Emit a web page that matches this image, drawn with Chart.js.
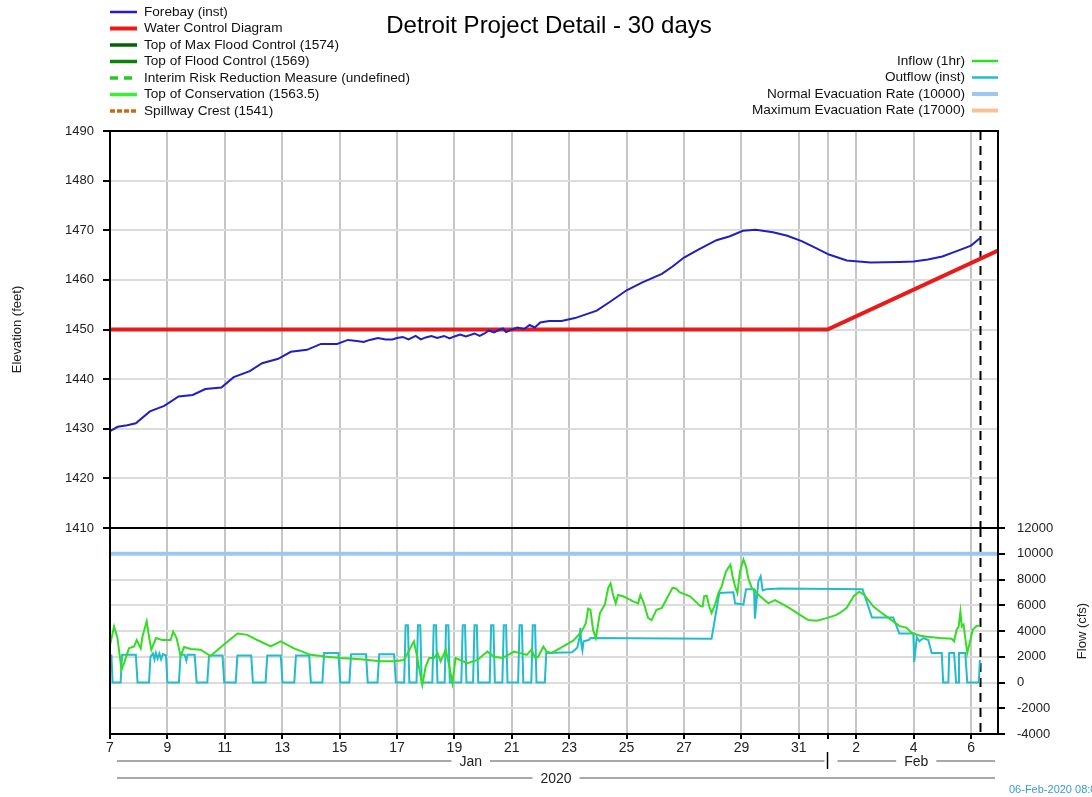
<!DOCTYPE html>
<html><head><meta charset="utf-8">
<script src="https://cdn.jsdelivr.net/npm/chart.js@4.4.0/dist/chart.umd.min.js"></script>
<style>
html,body{margin:0;padding:0;background:#fff;}
#wrap{position:relative;width:1092px;height:797px;overflow:hidden;background:#fff;}
canvas{position:absolute;left:0;top:0;}
</style></head><body>
<div id="wrap"><canvas id="topChart" width="1092" height="797"></canvas><canvas id="botChart" width="1092" height="797"></canvas></div>
<script>
// ---------- data ----------
const chartTitle = 'Detroit Project Detail - 30 days';
const X_MAX = 30.94;            // days after 07-Jan-2020 00:00
const nowDay = 30.33;           // 06-Feb-2020 08:00
const tickDays   = [0,2,4,6,8,10,12,14,16,18,20,22,24,25,26,28,30];
const tickLabels = ['7','9','11','13','15','17','19','21','23','25','27','29','31','','2','4','6'];
const monthSpans = [['Jan',0,25],['Feb',25,X_MAX]];
const yearSpans  = [['2020',0,X_MAX]];
const elevTicks = [1410,1420,1430,1440,1450,1460,1470,1480,1490];
const flowTicks = [-4000,-2000,0,2000,4000,6000,8000,10000,12000];
const timeStamp = '06-Feb-2020 08:00';

const forebay = [[0,1429.5],[0.27,1430.4],[0.6,1430.7],[0.9,1431.1],[1.39,1433.5],[1.89,1434.6],[2.39,1436.5],[2.88,1436.8],[3.32,1438.0],[3.88,1438.3],[4.31,1440.4],[4.87,1441.6],[5.3,1443.2],[5.86,1444.1],[6.3,1445.5],[6.86,1445.9],[7.35,1447.1],[7.91,1447.1],[8.29,1447.9],[8.6,1447.7],[8.84,1447.5],[9.05,1447.9],[9.34,1448.3],[9.6,1448.0],[9.84,1448.0],[10.0,1448.3],[10.2,1448.5],[10.4,1448.0],[10.65,1448.7],[10.83,1448.0],[11.0,1448.4],[11.2,1448.7],[11.4,1448.3],[11.64,1448.7],[11.83,1448.2],[12.0,1448.6],[12.2,1449.0],[12.4,1448.6],[12.7,1449.2],[12.88,1448.7],[13.05,1449.2],[13.2,1449.8],[13.38,1449.4],[13.55,1449.9],[13.69,1450.2],[13.8,1449.5],[14.0,1450.0],[14.19,1450.4],[14.43,1450.1],[14.62,1450.9],[14.8,1450.4],[14.99,1451.4],[15.3,1451.7],[15.73,1451.7],[16.2,1452.3],[16.96,1453.8],[17.45,1455.7],[18.0,1457.9],[18.55,1459.5],[19.23,1461.2],[19.6,1462.7],[20.0,1464.5],[20.5,1466.1],[21.13,1468.0],[21.6,1468.8],[22.05,1469.9],[22.5,1470.1],[23.1,1469.6],[23.6,1468.9],[24.1,1467.8],[24.6,1466.4],[25.05,1465.1],[25.67,1463.9],[26.5,1463.5],[27.5,1463.6],[28.0,1463.7],[28.5,1464.1],[29.0,1464.7],[29.5,1465.8],[30.0,1466.9],[30.33,1468.5]];
const waterControl = [[0,1450],[25,1450],[X_MAX,1465.9]];
const maxFloodControl = [[0,1574],[X_MAX,1574]];
const floodControl = [[0,1569],[X_MAX,1569]];
const interimRisk = [];
const conservation = [[0,1563.5],[X_MAX,1563.5]];
const spillwayCrest = [[0,1541],[X_MAX,1541]];

const inflow = [[0,2900],[0.14,4350],[0.26,3450],[0.4,1000],[0.49,1500],[0.66,2650],[0.84,2800],[0.93,3300],[1.07,2650],[1.13,3550],[1.28,4750],[1.36,3550],[1.44,2550],[1.6,3450],[1.82,3300],[2.11,3300],[2.2,3950],[2.32,3450],[2.46,2050],[2.58,2750],[2.81,2600],[3.16,2550],[3.5,2050],[3.97,2950],[4.44,3800],[4.79,3700],[5.13,3300],[5.6,2800],[5.95,3200],[6.41,2650],[6.99,2150],[7.57,2000],[8.04,1900],[8.73,1800],[9.43,1650],[9.9,1650],[10.24,1750],[10.59,3200],[10.7,2000],[10.88,-200],[11.0,1250],[11.12,1900],[11.29,1900],[11.41,2300],[11.52,1650],[11.7,2550],[11.8,1500],[11.93,-50],[12.04,1900],[12.45,1500],[12.8,1750],[13.15,2400],[13.38,2000],[13.67,1900],[14.08,2400],[14.29,2280],[14.52,2150],[14.69,2550],[14.8,1950],[14.92,2000],[15.1,2800],[15.21,2400],[15.39,2300],[15.79,2800],[16.14,3250],[16.43,3950],[16.58,4600],[16.66,5750],[16.74,5650],[16.83,4100],[16.93,3450],[17.07,5400],[17.24,6050],[17.36,7350],[17.44,7700],[17.53,6800],[17.62,6150],[17.7,6800],[17.88,6700],[18.23,6300],[18.4,6150],[18.48,6800],[18.6,6150],[18.75,5000],[18.87,4850],[19.04,5650],[19.23,5800],[19.6,7350],[19.72,7300],[19.86,7000],[20.21,6700],[20.56,5950],[20.65,5900],[20.7,6700],[20.79,6750],[20.88,5900],[20.96,5400],[21.08,6050],[21.2,6950],[21.31,7450],[21.46,8600],[21.54,8900],[21.62,9150],[21.69,8250],[21.78,7450],[21.86,6950],[21.95,8600],[22.07,9550],[22.16,9000],[22.24,8100],[22.36,7350],[22.65,6700],[22.94,6150],[23.17,6400],[23.46,6050],[23.69,5750],[24.04,5250],[24.33,4850],[24.62,4800],[24.97,5000],[25.31,5250],[25.43,5400],[25.67,5800],[25.91,6700],[26.1,7050],[26.28,6800],[26.6,5900],[26.83,5500],[27.29,4750],[27.5,4400],[27.76,4250],[27.93,3850],[28.2,3650],[28.46,3550],[28.92,3450],[29.33,3400],[29.41,3200],[29.5,4100],[29.57,4350],[29.63,5500],[29.68,4350],[29.74,4500],[29.79,3600],[29.87,2300],[29.94,2950],[30.06,4100],[30.2,4400],[30.29,4400]];

const outflow = [[0,2100],[0.05,2100],[0.09,0],[0.37,0],[0.42,2150],[0.9,2150],[0.96,0],[1.36,0],[1.41,2000],[1.5,2250],[1.55,1800],[1.6,2300],[1.66,1850],[1.72,2250],[1.78,1800],[1.84,2200],[1.95,2100],[2.0,0],[2.4,0],[2.46,2150],[2.6,2150],[2.66,1700],[2.7,2150],[2.95,2150],[3.02,0],[3.39,0],[3.45,2100],[3.92,2100],[3.98,0],[4.38,0],[4.44,2100],[4.92,2100],[4.98,0],[5.42,0],[5.48,2100],[5.95,2100],[6.01,0],[6.42,0],[6.48,2100],[6.94,2100],[7.0,0],[7.4,0],[7.46,2300],[7.96,2300],[8.02,0],[8.34,0],[8.4,2200],[8.92,2200],[8.98,0],[9.32,0],[9.38,2200],[9.9,2200],[9.96,0],
[10.25,0],[10.3,4450],[10.38,4450],[10.43,0],[10.68,0],[10.73,4450],[10.81,4450],[10.86,0],[11.23,0],[11.28,4450],[11.36,4450],[11.41,0],[11.66,0],[11.71,4450],[11.79,4450],[11.84,0],[12.24,0],[12.29,4450],[12.37,4450],[12.42,0],[12.65,0],[12.7,4450],[12.78,4450],[12.83,0],[13.23,0],[13.28,4450],[13.36,4450],[13.41,0],[13.67,0],[13.72,4450],[13.8,4450],[13.85,0],[14.22,0],[14.27,4450],[14.35,4450],[14.4,0],[14.68,0],[14.73,4450],[14.81,4450],[14.86,0],
[15.15,0],[15.2,2300],[16.1,2350],[16.28,2700],[16.36,3500],[16.39,4250],[16.42,3000],[16.46,2500],[16.5,3200],[16.68,3300],[16.74,3450],[20.96,3400],[21.23,6950],[21.72,7000],[21.78,6150],[22.07,6050],[22.16,7250],[22.44,7250],[22.47,4950],[22.59,7850],[22.67,8250],[22.74,7150],[22.88,7250],[23.34,7300],[26.22,7250],[26.55,5050],[27.29,5050],[27.5,3800],[27.99,3800],[28.02,1600],[28.11,3500],[28.2,3200],[28.34,3450],[28.51,3300],[28.63,2300],[28.98,2300],[29.03,0],[29.21,0],[29.24,2300],[29.41,2300],[29.48,0],[29.55,0],[29.58,2300],[29.8,2300],[29.87,0],[30.27,0],[30.31,1750]];

const normalEvac = [[0,10000],[X_MAX,10000]];
const maxEvac = [[0,17000],[X_MAX,17000]];

// ---------- helpers ----------
const FONT = "'Liberation Sans', Arial, Helvetica, sans-serif";
const NARROW = "'Liberation Sans Narrow', 'Liberation Sans', Arial, sans-serif";
const toXY = arr => arr.map(p => ({x: p[0], y: p[1]}));

function line(label, data, color, width, legendWidth, dash) {
  return {label, data: toXY(data), borderColor: color, backgroundColor: color,
    borderWidth: width, legendWidth: legendWidth, borderDash: dash || [],
    pointRadius: 0, tension: 0, fill: false};
}
function nowLine(lo, hi) {
  return {label: '', noLegend: true, data: toXY([[nowDay, hi],[nowDay, lo]]),
    borderColor: '#000', borderWidth: 2, borderDash: [9,6], pointRadius: 0, tension: 0};
}
function xAxis(showLabels, height) {
  return {
    type: 'linear', min: 0, max: X_MAX,
    afterBuildTicks: s => { s.ticks = tickDays.map(v => ({value: v})); },
    afterFit: s => { s.height = height; },
    grid: {color: '#c6c6c6', lineWidth: 2, drawTicks: showLabels, tickLength: 5, tickColor: '#000'},
    border: {display: false},
    ticks: {display: showLabels, autoSkip: false, maxRotation: 0, minRotation: 0, padding: 1,
      color: '#222', font: {family: NARROW, size: 14},
      callback: v => { const i = tickDays.indexOf(v); return i >= 0 ? tickLabels[i] : ''; }}
  };
}
const framePlugin = {
  id: 'frame',
  afterDatasetsDraw(chart) {
    const {ctx, chartArea: a} = chart;
    ctx.save(); ctx.strokeStyle = '#000'; ctx.lineWidth = 2;
    ctx.strokeRect(a.left, a.top, a.right - a.left, a.bottom - a.top);
    ctx.restore();
  }
};
function legendSample(ctx, ds, x1, x2, y) {
  ctx.save();
  ctx.strokeStyle = ds.borderColor; ctx.lineWidth = ds.legendWidth || 3;
  ctx.setLineDash(ds.legendDash || []);
  ctx.beginPath(); ctx.moveTo(x1, y); ctx.lineTo(x2, y); ctx.stroke();
  ctx.restore();
}
const LEG_FONT = '13.6px ' + FONT;
const topDecor = {
  id: 'topDecor',
  afterDraw(chart) {
    const ctx = chart.ctx, a = chart.chartArea;
    ctx.save();
    ctx.fillStyle = '#000'; ctx.font = '24px ' + FONT; ctx.textAlign = 'center'; ctx.textBaseline = 'middle';
    ctx.fillText(chartTitle, 549, 26);
    // left legend
    ctx.font = LEG_FONT; ctx.textAlign = 'left'; ctx.fillStyle = '#111';
    let i = 0;
    chart.data.datasets.forEach(ds => {
      if (ds.noLegend) return;
      const y = 12 + i * 16.5;
      legendSample(ctx, ds, 110, 137, y);
      ctx.fillText(ds.label, 144, y);
      i++;
    });
    // y title
    ctx.save();
    ctx.translate(17, (a.top + a.bottom) / 2); ctx.rotate(-Math.PI / 2);
    ctx.font = '13px ' + FONT;
    ctx.textAlign = 'center'; ctx.textBaseline = 'middle'; ctx.fillStyle = '#222';
    ctx.fillText('Elevation (feet)', 0, 0);
    ctx.restore();
    ctx.restore();
  }
};
const botDecor = {
  id: 'botDecor',
  afterDraw(chart) {
    const ctx = chart.ctx, a = chart.chartArea, xs = chart.scales.x;
    ctx.save();
    ctx.font = LEG_FONT; ctx.textBaseline = 'middle';
    // right legend
    let i = 0;
    chart.data.datasets.forEach(ds => {
      if (ds.noLegend) return;
      const y = 61 + i * 16.5;
      ctx.fillStyle = '#111'; ctx.textAlign = 'right';
      ctx.fillText(ds.label, 965, y);
      legendSample(ctx, ds, 972, 998, y);
      i++;
    });
    // y title
    ctx.save();
    ctx.translate(1082, (a.top + a.bottom) / 2); ctx.rotate(-Math.PI / 2);
    ctx.font = '13px ' + FONT;
    ctx.textAlign = 'center'; ctx.fillStyle = '#222';
    ctx.fillText('Flow (cfs)', 0, 0);
    ctx.restore();
    // month / year bands
    function band(spans, y) {
      spans.forEach(([txt, s, e], k) => {
        const x1 = xs.getPixelForValue(s) + (k === 0 ? 7 : 10);
        const x2 = xs.getPixelForValue(e) - 3;
        ctx.font = '14px ' + NARROW;
        const w = ctx.measureText(txt).width;
        const cx = (x1 + x2) / 2;
        ctx.strokeStyle = '#a8a8a8'; ctx.lineWidth = 2;
        ctx.beginPath();
        ctx.moveTo(x1, y); ctx.lineTo(cx - w / 2 - 8, y);
        ctx.moveTo(cx + w / 2 + 8, y); ctx.lineTo(x2, y);
        ctx.stroke();
        ctx.fillStyle = '#222'; ctx.textAlign = 'center'; ctx.textBaseline = 'middle';
        ctx.fillText(txt, cx, y + 1);
        if (k > 0) {
          const sx = xs.getPixelForValue(s);
          ctx.strokeStyle = '#000'; ctx.lineWidth = 1.5;
          ctx.beginPath(); ctx.moveTo(sx, y - 9); ctx.lineTo(sx, y + 8); ctx.stroke();
        }
      });
    }
    band(monthSpans, 761);
    band(yearSpans, 778);
    // timestamp
    ctx.font = '11px ' + NARROW; ctx.fillStyle = '#3a9ad0'; ctx.textAlign = 'left'; ctx.textBaseline = 'middle';
    ctx.fillText(timeStamp, 1009, 790);
    ctx.restore();
  }
};
const common = {
  responsive: false, animation: false, devicePixelRatio: 1,
  plugins: {legend: {display: false}, tooltip: {enabled: false}, title: {display: false}},
  elements: {point: {radius: 0}, line: {tension: 0}}
};
const plainTick = v => String(v);

// ---------- top chart (elevation) ----------
new Chart(document.getElementById('topChart'), {
  type: 'line',
  data: {datasets: [
    line('Forebay (inst)', forebay, '#1f1fc4', 2, 2.5),
    line('Water Control Diagram', waterControl, '#e81a1a', 4, 4),
    line('Top of Max Flood Control (1574)', maxFloodControl, '#006400', 3, 3.5),
    line('Top of Flood Control (1569)', floodControl, '#0c820c', 3, 3.5),
    Object.assign(line('Interim Risk Reduction Measure (undefined)', interimRisk, '#22cc22', 3, 3.5, [8,6]), {legendDash: [8,6]}),
    line('Top of Conservation (1563.5)', conservation, '#3cee3c', 3, 3.5),
    Object.assign(line('Spillway Crest (1541)', spillwayCrest, '#cc6a14', 3, 3.5, [4,2]), {legendDash: [5,2]}),
    nowLine(1410, 1490)
  ]},
  options: Object.assign({}, common, {
    layout: {padding: {top: 131, left: 0, right: 94, bottom: 0}},
    scales: {
      x: xAxis(false, 269),
      y: {type: 'linear', position: 'left', min: 1410, max: 1490,
        afterBuildTicks: s => { s.ticks = elevTicks.map(v => ({value: v})); },
        afterFit: s => { s.width = 110; },
        grid: {color: '#dcdcdc', lineWidth: 2, tickLength: 7, tickColor: '#000'},
        border: {display: false},
        ticks: {padding: 9, color: '#222', font: {family: FONT, size: 13}, callback: plainTick}}
    }
  }),
  plugins: [framePlugin, topDecor]
});

// ---------- bottom chart (flow) ----------
new Chart(document.getElementById('botChart'), {
  type: 'line',
  data: {datasets: [
    line('Inflow (1hr)', inflow, '#33dd22', 2, 2.5),
    line('Outflow (inst)', outflow, '#22bccc', 2, 2.5),
    line('Normal Evacuation Rate (10000)', normalEvac, '#9cc8f0', 4, 4),
    line('Maximum Evacuation Rate (17000)', maxEvac, '#f8c394', 4, 4),
    nowLine(-4000, 12000)
  ]},
  options: Object.assign({}, common, {
    layout: {padding: {top: 528, left: 110, right: 0, bottom: 0}},
    scales: {
      x: xAxis(true, 63),
      y: {type: 'linear', position: 'right', min: -4000, max: 12000,
        afterBuildTicks: s => { s.ticks = flowTicks.map(v => ({value: v})); },
        afterFit: s => { s.width = 94; },
        grid: {color: '#dcdcdc', lineWidth: 2, tickLength: 7, tickColor: '#000'},
        border: {display: false},
        ticks: {padding: 12, color: '#222', font: {family: FONT, size: 13}, callback: plainTick}}
    }
  }),
  plugins: [framePlugin, botDecor]
});
</script>
</body></html>
